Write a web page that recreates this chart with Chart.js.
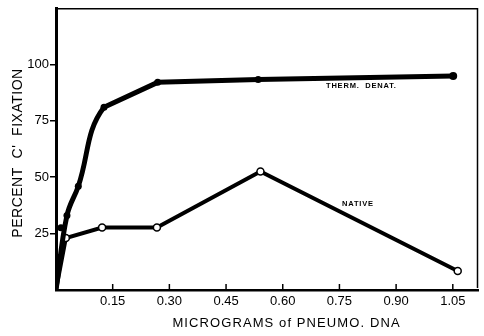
<!DOCTYPE html>
<html>
<head>
<meta charset="utf-8">
<script src="https://cdn.jsdelivr.net/npm/chart.js@4/dist/chart.umd.min.js"></script>
<style>
    html, body { margin: 0; padding: 0; background: #fff; }
    #wrap { width: 484px; height: 336px; }
</style>
</head>
<body>
<div id="wrap"><canvas id="fixChart"></canvas></div>
<script>
// Thermally denatured DNA (filled dots): smooth rise, then straight runs
const thermX = [0, 0.029, 0.059, 0.127, 0.269, 0.535, 1.051];
const thermY = [0, 33, 46, 81, 92, 93.3, 94.8];
const thermKnee = 3; // from this index on the curve runs straight
// stray filled dot that sits off the curve
const strayX = [0.013];
const strayY = [27.6];
// Native DNA (open dots, straight segments)
const nativeX = [0, 0.026, 0.122, 0.267, 0.541, 1.063];
const nativeY = [0, 23, 27.7, 27.7, 52.5, 8.4];

const xTickValues = [0.15, 0.30, 0.45, 0.60, 0.75, 0.90, 1.05];
const yTickValues = [25, 50, 75, 100];

const xTitle = "MICROGRAMS of PNEUMO. DNA";
const yTitle = "PERCENT  C'  FIXATION";
// curve labels: text, x, y (data units)
const curveLabels = [
    ["THERM.  DENAT.", 0.808, 90.2],
    ["NATIVE", 0.799, 38.3]
];

function toPoints(xs, ys) {
    let pts = [];
    for (let i = 0; i < xs.length; i++) {
        pts.push({ x: xs[i], y: ys[i] });
    }
    return pts;
}

const FONT = "'Liberation Sans', 'DejaVu Sans', sans-serif";

/**
 * Draws the inward x ticks, the frame, the axis titles and the curve labels
 */
const extrasPlugin = {
    id: 'extras',
    afterDraw(chart) {
        const ctx = chart.ctx;
        const xs = chart.scales.x;
        const ys = chart.scales.y;
        const area = chart.chartArea;
        ctx.save();
        ctx.strokeStyle = '#000';

        // x ticks point up into the plot
        ctx.lineWidth = 1.5;
        for (let i = 0; i < xTickValues.length; i++) {
            let px = xs.getPixelForValue(xTickValues[i]);
            ctx.beginPath();
            ctx.moveTo(px, area.bottom);
            ctx.lineTo(px, area.bottom - 6);
            ctx.stroke();
        }

        // thin top and right frame
        ctx.lineWidth = 1.5;
        ctx.beginPath();
        ctx.moveTo(area.left, area.top);
        ctx.lineTo(area.right - 1, area.top);
        ctx.lineTo(area.right - 1, area.bottom - 2);
        ctx.stroke();

        ctx.fillStyle = '#000';
        // x title
        ctx.font = "13px " + FONT;
        ctx.letterSpacing = "1.1px";
        ctx.textAlign = 'center';
        ctx.textBaseline = 'middle';
        ctx.fillText(xTitle, xs.getPixelForValue(0.61), 323);

        // y title
        ctx.save();
        ctx.translate(18, 153);
        ctx.rotate(-Math.PI / 2);
        ctx.font = "14px " + FONT;
        ctx.letterSpacing = "0.5px";
        ctx.fillText(yTitle, 0, 0);
        ctx.restore();

        // curve labels
        ctx.font = "bold 7.5px " + FONT;
        ctx.letterSpacing = "0.8px";
        for (let i = 0; i < curveLabels.length; i++) {
            let lab = curveLabels[i];
            ctx.fillText(lab[0], xs.getPixelForValue(lab[1]), ys.getPixelForValue(lab[2]));
        }
        ctx.restore();
    }
};

const thermPoints = toPoints(thermX, thermY);

const config = {
    type: 'line',
    data: {
        datasets: [
            {
                // smooth rise; segments past the knee are left undrawn
                label: 'Therm. denat.',
                data: thermPoints,
                borderColor: '#000',
                borderWidth: 5,
                tension: 0.4,
                segment: {
                    borderColor: (ctx) => ctx.p0DataIndex >= thermKnee ? 'rgba(0,0,0,0)' : '#000'
                },
                pointRadius: [0, 3.5, 3.5, 3.5, 3.5, 3.5, 4],
                pointBackgroundColor: '#000',
                pointBorderWidth: 0,
                fill: false
            },
            {
                label: 'Therm. denat. plateau',
                data: thermPoints.slice(thermKnee),
                borderColor: '#000',
                borderWidth: 5,
                tension: 0,
                borderJoinStyle: 'round',
                pointRadius: 0,
                fill: false
            },
            {
                label: 'stray',
                data: toPoints(strayX, strayY),
                showLine: false,
                pointRadius: 3.5,
                pointBackgroundColor: '#000',
                pointBorderWidth: 0
            },
            {
                label: 'Native',
                data: toPoints(nativeX, nativeY),
                borderColor: '#000',
                borderWidth: 4,
                tension: 0,
                pointRadius: [0, 3.5, 3.5, 3.5, 3.5, 3.5],
                pointBackgroundColor: '#fff',
                pointBorderColor: '#000',
                pointBorderWidth: 1.5,
                fill: false
            }
        ]
    },
    options: {
        responsive: false,
        animation: false,
        layout: { padding: { top: 7, right: 1, left: 0, bottom: 0 } },
        plugins: {
            legend: { display: false },
            tooltip: { enabled: false }
        },
        scales: {
            x: {
                type: 'linear',
                min: 0,
                max: 1.118,
                afterBuildTicks: (scale) => { scale.ticks = xTickValues.map(v => ({ value: v })); },
                afterFit: (scale) => { scale.height = 46; },
                grid: { display: false, drawTicks: false },
                border: { display: true, color: '#000', width: 2.5 },
                ticks: {
                    padding: 4,
                    color: '#000',
                    font: { family: FONT, size: 13 },
                    maxRotation: 0,
                    callback: (v) => v.toFixed(2)
                }
            },
            y: {
                min: 0,
                max: 124.6,
                afterBuildTicks: (scale) => { scale.ticks = yTickValues.map(v => ({ value: v })); },
                afterFit: (scale) => { scale.width = 56; },
                grid: { display: true, drawOnChartArea: false, drawTicks: true, tickLength: 6, color: '#000', lineWidth: 1.5 },
                border: { display: true, color: '#000', width: 3 },
                ticks: {
                    padding: 1,
                    color: '#000',
                    font: { family: FONT, size: 13 },
                    callback: (v) => String(v)
                }
            }
        }
    },
    plugins: [extrasPlugin]
};

const canvas = document.getElementById("fixChart");
canvas.width = 484;
canvas.height = 336;
new Chart(canvas, config);
</script>
</body>
</html>
